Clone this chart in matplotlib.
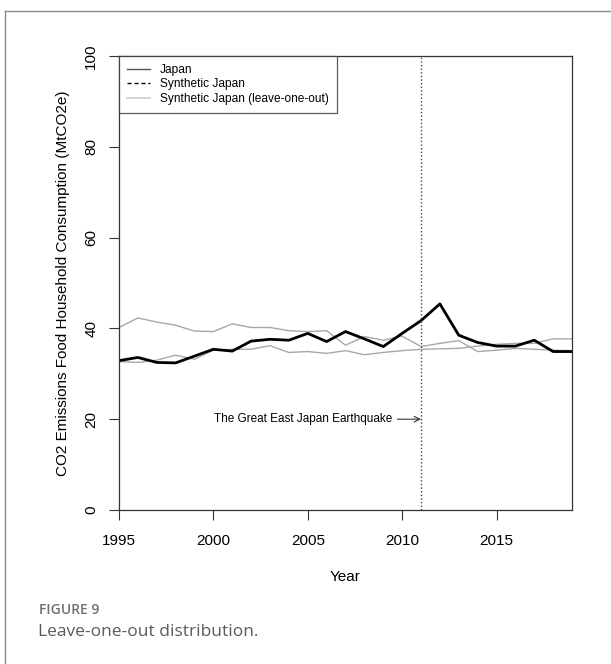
import matplotlib
matplotlib.use("Agg")
import matplotlib.pyplot as plt
from matplotlib.lines import Line2D

plt.rcParams['font.family'] = ['Liberation Sans', 'DejaVu Sans']

years = list(range(1995, 2020))
japan = [32.9, 33.6, 32.5, 32.4, 33.9, 35.4, 35.0, 37.2, 37.6, 37.4, 38.9, 37.1,
         39.3, 37.7, 36.0, 38.9, 41.7, 45.4, 38.5, 36.9, 36.1, 36.1, 37.4, 34.9, 34.9]
loo_a = [40.2, 42.3, 41.4, 40.7, 39.4, 39.3, 41.0, 40.2, 40.2, 39.5, 39.3, 39.5,
         36.3, 38.2, 37.4, 38.3, 36.0, 36.7, 37.3, 34.9, 35.2, 35.6, 35.4, 35.2, 35.1]
loo_b = [32.7, 32.5, 33.0, 34.1, 33.2, 35.2, 35.4, 35.4, 36.2, 34.7, 34.9, 34.5,
         35.1, 34.2, 34.7, 35.1, 35.4, 35.5, 35.6, 36.1, 36.5, 36.7, 36.7, 37.7, 37.7]
x_ticks = [1995, 2000, 2005, 2010, 2015]
y_ticks = [0, 20, 40, 60, 80, 100]
event_year = 2011
event_label = "The Great East Japan Earthquake"
event_y = 20

W, H = 611, 664
fig = plt.figure(figsize=(W / 100, H / 100), dpi=100)
ax = fig.add_axes([119 / W, 1 - 510 / H, (572 - 119) / W, (510 - 56) / H])

ax.plot(years, loo_a, color='#a8a8a8', lw=1.0)
ax.plot(years, loo_b, color='#a8a8a8', lw=1.0)
ax.plot(years, japan, color='black', lw=2.0)
ax.axvline(event_year, color='#444444', lw=1.0, ls=(0, (1, 1.6)))

# event label with an arrow pointing at the vertical marker
ax.text(event_year - 1.52, event_y, event_label, ha='right', va='center', fontsize=8.5)
ax.annotate('', xy=(event_year, event_y), xytext=(event_year - 1.25, event_y),
            arrowprops=dict(arrowstyle='->', color='#333333', lw=0.8,
                            shrinkA=0, shrinkB=0, mutation_scale=10))

ax.set_xlim(1995, 2019)
ax.set_ylim(0, 100)
ax.set_xticks(x_ticks)
ax.set_yticks(y_ticks)
ax.set_yticklabels([str(v) for v in y_ticks], rotation=90, va='center')
ax.tick_params(axis='both', direction='out', length=7, width=0.8, labelsize=11,
               colors='#333333', labelcolor='black')
ax.tick_params(axis='x', pad=10)
ax.tick_params(axis='y', pad=8)
for s in ax.spines.values():
    s.set_color('#333333')
    s.set_linewidth(0.9)

ax.set_xlabel('Year', fontsize=11, labelpad=16)
ax.set_ylabel('CO2 Emissions Food Household Consumption (MtCO2e)', fontsize=11, labelpad=10)

handles = [Line2D([], [], color='#555555', lw=1.0),
           Line2D([], [], color='black', lw=1.0, ls=(0, (3, 2))),
           Line2D([], [], color='#cccccc', lw=1.2)]
labels = ['Japan', 'Synthetic Japan', 'Synthetic Japan (leave-one-out)']
leg = ax.legend(handles, labels, loc='upper left', bbox_to_anchor=(0, 1),
                fontsize=8.6, frameon=True, fancybox=False, borderaxespad=0,
                handlelength=1.95, handletextpad=0.85, labelspacing=0.22,
                borderpad=0.65)
leg.get_frame().set_edgecolor('#333333')
leg.get_frame().set_linewidth(0.9)

# panel border
fig.add_artist(Line2D([4.5 / W, 4.5 / W], [0, 1 - 11 / H], transform=fig.transFigure,
                      color='#8a8a8a', lw=1.0))
fig.add_artist(Line2D([4.5 / W, 1], [1 - 11 / H, 1 - 11 / H], transform=fig.transFigure,
                      color='#8a8a8a', lw=1.0))

fig.text(39 / W, 1 - 610 / H, 'FIGURE 9', family=['Open Sans', 'DejaVu Sans'],
         fontsize=10, fontweight='semibold', color='#6f6f6f', va='center', ha='left')
fig.text(38 / W, 1 - 632 / H, 'Leave-one-out distribution.', family=['Open Sans', 'DejaVu Sans'],
         fontsize=12.5, color='#5a5a5a', va='center', ha='left')

fig.savefig('out.png', dpi=100)
